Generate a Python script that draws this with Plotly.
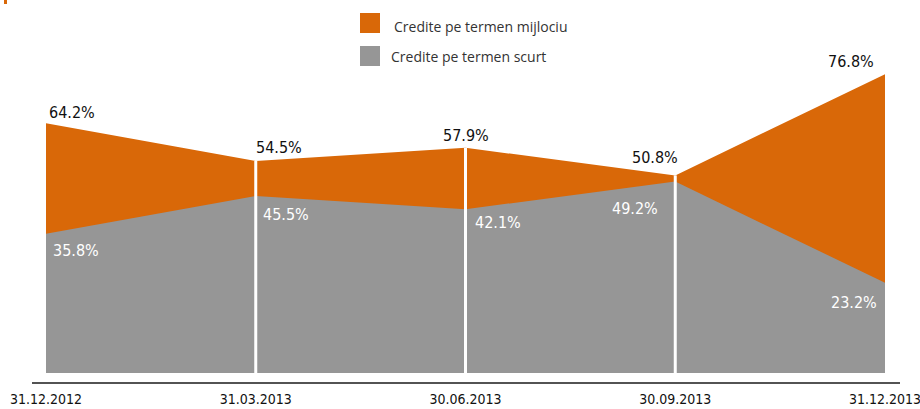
import plotly.graph_objects as go

dates = ["31.12.2012", "31.03.2013", "30.06.2013", "30.09.2013", "31.12.2013"]
medium_term = [64.2, 54.5, 57.9, 50.8, 76.8]   # Credite pe termen mijlociu
short_term = [35.8, 45.5, 42.1, 49.2, 23.2]    # Credite pe termen scurt
series_names = ["Credite pe termen mijlociu", "Credite pe termen scurt"]

ORANGE = "rgb(217,104,8)"
GREY = "rgb(150,150,150)"
FONT = "DejaVu Sans Condensed, sans-serif"

x = list(range(len(dates)))

fig = go.Figure()
fig.add_trace(go.Scatter(x=x, y=medium_term, mode="lines", fill="tozeroy",
                         fillcolor=ORANGE, line=dict(width=0, color=ORANGE),
                         name=series_names[0], hoverinfo="skip"))
fig.add_trace(go.Scatter(x=x, y=short_term, mode="lines", fill="tozeroy",
                         fillcolor=GREY, line=dict(width=0, color=GREY),
                         name=series_names[1], hoverinfo="skip"))

# white separators at interior dates
for i in x[1:-1]:
    fig.add_shape(type="line", xref="x", yref="y", x0=i, x1=i, y0=0,
                  y1=max(medium_term[i], short_term[i]),
                  line=dict(color="white", width=3), layer="above")

# label placement (anchor, xshift, yshift)
top_place = [("left", 1, -1), ("left", -2, 2), ("center", 0, 1), ("right", 5, 6), ("right", -9, 1)]
bot_place = [("left", 5, -5), ("left", 5, -7), ("left", 7, -2), ("right", -15, -15), ("right", -6, -8)]

for i in x:
    a, xs, ys = top_place[i]
    fig.add_annotation(x=i, y=medium_term[i], text=f"{medium_term[i]:.1f}%",
                       showarrow=False, xanchor=a, yanchor="bottom",
                       xshift=xs, yshift=ys,
                       font=dict(family=FONT, size=16, color="#111111"))
    a, xs, ys = bot_place[i]
    fig.add_annotation(x=i, y=short_term[i], text=f"{short_term[i]:.1f}%",
                       showarrow=False, xanchor=a, yanchor="top",
                       xshift=xs, yshift=ys,
                       font=dict(family=FONT, size=16, color="white"))

W, H = 920, 409
ml, mr, mt, mb = 46, 35, 10, 36
pw, ph = W - ml - mr, H - mt - mb

def px_x(p):
    return (p - ml) / pw

def px_y(p):
    return (H - mb - p) / ph

# baseline axis line
fig.add_shape(type="line", xref="paper", yref="paper", x0=px_x(32), x1=px_x(900),
              y0=px_y(383), y1=px_y(383), line=dict(color="#1a1a1a", width=1.5))

# small orange mark at top-left
fig.add_shape(type="rect", xref="paper", yref="paper", x0=px_x(4), x1=px_x(7),
              y0=px_y(4), y1=px_y(0), fillcolor=ORANGE, line=dict(width=0))

# manual legend
legend_rows = [(ORANGE, series_names[0], 13, 392, 13), (GREY, series_names[1], 46, 389, 11)]
for col, name, ytop, tx, ty in legend_rows:
    fig.add_shape(type="rect", xref="paper", yref="paper", x0=px_x(360), x1=px_x(380),
                  y0=px_y(ytop + 20), y1=px_y(ytop), fillcolor=col, line=dict(width=0))
    fig.add_annotation(xref="paper", yref="paper", x=px_x(tx), y=px_y(ytop + ty),
                       text=name, showarrow=False, xanchor="left", yanchor="middle",
                       font=dict(family="Open Sans, sans-serif", size=14, color="#333333"))

fig.update_layout(
    width=W, height=H,
    margin=dict(l=ml, r=mr, t=mt, b=mb, autoexpand=False),
    paper_bgcolor="white", plot_bgcolor="white",
    showlegend=False,
    xaxis=dict(range=[-1e-6, 4 + 1e-6], tickvals=x, ticktext=dates, showgrid=False,
               zeroline=False, showline=False, ticks="", ticklabelstandoff=16,
               automargin=False, ticklabeloverflow="allow",
               tickfont=dict(family=FONT, size=14, color="#111111"), fixedrange=True),
    yaxis=dict(range=[0, ph / 3.89], showgrid=False, zeroline=False, automargin=False,
               showline=False, showticklabels=False, fixedrange=True),
)

fig.write_html("out.html", config={"displayModeBar": False},
               post_script="document.body.style.margin='0';document.body.style.overflow='hidden';")
